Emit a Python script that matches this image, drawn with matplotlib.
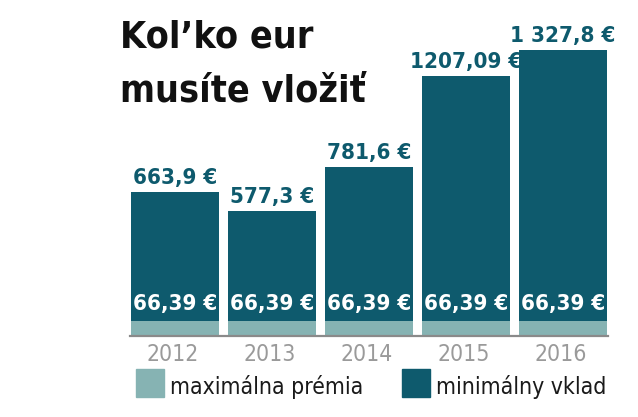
import matplotlib.pyplot as plt
from matplotlib.patches import Rectangle

years = ["2012", "2013", "2014", "2015", "2016"]
min_vklad = [663.9, 577.3, 781.6, 1207.09, 1327.8]
max_premia = [66.39, 66.39, 66.39, 66.39, 66.39]
top_labels = ["663,9 €", "577,3 €", "781,6 €", "1207,09 €", "1 327,8 €"]
inner_labels = ["66,39 €"] * 5
title_lines = ["Kol\u2019ko eur", "musíte vložiť"]

dark = "#0e5a6d"
light = "#86b3b3"
plt.rcParams["font.family"] = "DejaVu Sans"
plt.rcParams["font.stretch"] = "condensed"

W, H = 638, 417
fig = plt.figure(figsize=(W / 100, H / 100), dpi=100)
# axes placed in pixel terms: bars from x=131 to 607, baseline at y=335
ax = fig.add_axes([131 / W, (H - 335) / H, (607 - 131) / W, 300.6 / H])
ax.set_xlim(-0.4536, 4.4536)
ax.set_ylim(0, 1400)
ax.axis("off")

x = list(range(len(years)))
width = 88 / 97
rest = [v - p for v, p in zip(min_vklad, max_premia)]
ax.bar(x, max_premia, width=width, color=light, linewidth=0)
ax.bar(x, rest, bottom=max_premia, width=width, color=dark, linewidth=0)

for i in x:
    ax.annotate(top_labels[i], (i, min_vklad[i]), xytext=(0, 3), textcoords="offset points",
                ha="center", va="bottom", fontsize=16, fontweight="bold", color=dark)
    ax.annotate(inner_labels[i], (i, max_premia[i]), xytext=(0, 5), textcoords="offset points",
                ha="center", va="bottom", fontsize=16, fontweight="bold", color="white")
    ax.annotate(years[i], (i, 0), xytext=(-2, -6), textcoords="offset points",
                ha="center", va="top", fontsize=16.5, color="#9a9a9a")

# baseline
fig.add_artist(plt.Line2D([130 / W, 608 / W], [(H - 336) / H] * 2, color="#8a8a8a", lw=1.6))

# title, two lines placed by baseline
for line, base in zip(title_lines, [48, 101]):
    fig.text(120 / W, (H - base) / H, line, ha="left", va="baseline",
             fontsize=27, fontweight="bold", color="#111111")

# legend
for x0, label, col in [(136, "maximálna prémia", light), (402, "minimálny vklad", dark)]:
    fig.add_artist(Rectangle((x0 / W, (H - 397) / H), 28 / W, 28 / H, color=col,
                             transform=fig.transFigure))
    fig.text((x0 + 34) / W, (H - 394) / H, label, ha="left", va="baseline",
             fontsize=16.5, color="#1a1a1a")

fig.savefig("out.png", dpi=100)
